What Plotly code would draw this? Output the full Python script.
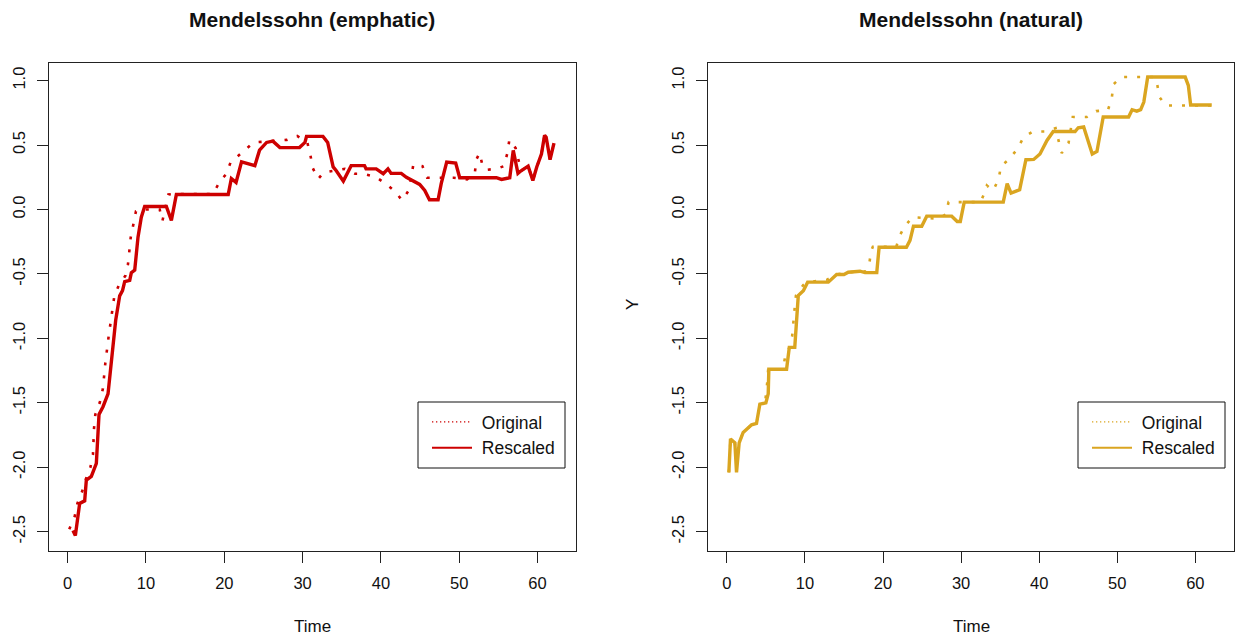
import plotly.graph_objects as go

# ---------------- data ----------------
emph_orig_t = [0.2, 0.9, 1.24, 1.83, 2.26, 2.9, 3.23, 3.36, 3.53, 4.09, 4.5, 4.81, 5.24, 5.7, 5.96,
               6.55, 7.36, 7.7, 8.05, 8.39, 8.72, 9.2, 11.75, 12.1, 12.86, 13.5, 18.5, 19.0, 19.6,
               20.2, 20.8, 22.6, 23.75, 26.0, 28.0, 29.3, 30.6, 31.0, 31.3, 32.0, 32.7, 34.0, 35.4,
               36.7, 37.7, 39.3, 40.6, 41.76, 42.7, 43.55, 44.15, 45.3, 45.9, 47.6, 49.3, 51.0, 52.0,
               52.2, 52.6, 53.0, 53.55, 54.8, 55.7, 56.15, 56.4, 56.9, 57.2, 57.9, 58.8, 59.4, 59.9,
               60.5, 60.9, 61.1, 61.6, 62.1]
emph_orig_y = [-2.48, -2.38, -2.28, -2.19, -2.10, -2.0, -1.9, -1.7, -1.59, -1.5, -1.39, -1.19, -0.98,
               -0.78, -0.67, -0.585, -0.515, -0.425, -0.217, -0.114, -0.013, 0.0, 0.0, -0.088, 0.116,
               0.12, 0.12, 0.17, 0.233, 0.27, 0.365, 0.46, 0.52, 0.53, 0.54, 0.57, 0.52, 0.42, 0.32,
               0.237, 0.287, 0.30, 0.315, 0.277, 0.277, 0.254, 0.2, 0.142, 0.072, 0.148, 0.35, 0.336,
               0.246, 0.246, 0.246, 0.233, 0.287, 0.39, 0.437, 0.334, 0.308, 0.316, 0.336, 0.437,
               0.54, 0.5, 0.476, 0.30, 0.336, 0.225, 0.33, 0.43, 0.575, 0.56, 0.386, 0.515]

emph_resc_t = [0.68, 0.98, 1.53, 2.17, 2.38, 3.02, 3.66, 4.0, 4.51, 5.15, 6.13, 6.64, 7.0, 7.28, 7.92,
               8.13, 8.56, 8.98, 9.4, 9.83, 12.6, 13.24, 13.88, 20.5, 20.9, 21.5, 22.2, 23.0, 23.9,
               24.5, 25.4, 26.2, 27.1, 29.6, 30.3, 30.5, 32.6, 33.2, 33.9, 34.3, 35.2, 36.2, 37.9,
               38.1, 39.4, 40.3, 40.9, 41.3, 42.6, 43.25, 44.1, 44.95, 45.6, 46.2, 47.3, 47.7, 48.4,
               49.55, 50.06, 54.75, 55.4, 56.45, 56.9, 57.5, 57.9, 58.8, 59.4, 59.9, 60.5, 60.9,
               61.1, 61.6, 62.1]
emph_resc_y = [-2.49, -2.53, -2.28, -2.26, -2.10, -2.07, -1.97, -1.59, -1.53, -1.43, -0.86, -0.67,
               -0.63, -0.56, -0.55, -0.49, -0.47, -0.215, -0.06, 0.023, 0.023, -0.085, 0.116, 0.116,
               0.24, 0.21, 0.37, 0.355, 0.34, 0.46, 0.52, 0.53, 0.48, 0.48, 0.52, 0.567, 0.567, 0.52,
               0.33, 0.30, 0.22, 0.34, 0.34, 0.315, 0.315, 0.277, 0.315, 0.28, 0.28, 0.25, 0.225,
               0.194, 0.148, 0.075, 0.075, 0.2, 0.367, 0.36, 0.246, 0.246, 0.233, 0.246, 0.458, 0.28,
               0.30, 0.336, 0.225, 0.33, 0.43, 0.575, 0.56, 0.386, 0.515]

nat_orig_t = [0.26, 0.47, 1.03, 1.24, 1.58, 2.09, 3.17, 3.8, 4.23, 4.9, 5.17, 5.3, 7.2, 7.44, 8.0,
              8.37, 8.68, 8.85, 9.8, 10.3, 12.8, 14.0, 15.5, 17.05, 17.8, 18.25, 18.46, 18.7, 21.7,
              22.1, 22.8, 23.76, 27.1, 28.0, 28.4, 32.5, 32.9, 33.3, 34.1, 34.8, 35.1, 36.15, 37.2,
              38.0, 39.2, 40.9, 42.1, 42.5, 42.9, 43.76, 44.3, 46.1, 47.3, 48.8, 49.3, 49.5, 50.5,
              54.8, 55.1, 55.4, 56.2, 62.1]
nat_orig_y = [-2.04, -1.78, -1.81, -2.04, -1.81, -1.73, -1.67, -1.66, -1.51, -1.50, -1.345, -1.24,
              -1.24, -1.15, -1.07, -0.98, -0.77, -0.668, -0.585, -0.564, -0.546, -0.505, -0.487,
              -0.479, -0.48, -0.42, -0.324, -0.29, -0.29, -0.207, -0.13, -0.06, -0.072, -0.04, 0.057,
              0.057, 0.114, 0.186, 0.147, 0.233, 0.334, 0.39, 0.468, 0.56, 0.605, 0.605, 0.63, 0.53,
              0.437, 0.515, 0.717, 0.717, 0.763, 0.77, 0.864, 0.97, 1.027, 1.027, 0.976, 0.872,
              0.807, 0.807]

nat_resc_t = [0.26, 0.47, 1.03, 1.24, 1.58, 2.09, 3.17, 3.8, 4.23, 5.0, 5.3, 5.38, 7.65, 8.0, 8.7,
              9.15, 9.8, 10.35, 13.0, 14.06, 15.0, 15.55, 17.05, 17.7, 19.2, 19.5, 23.0, 23.46, 23.9,
              24.96, 25.6, 28.8, 29.5, 29.9, 30.4, 35.4, 35.9, 36.4, 37.5, 38.3, 39.3, 40.1, 41.0,
              41.8, 44.6, 45.0, 45.7, 46.8, 47.4, 48.2, 51.45, 51.9, 52.5, 53.0, 53.4, 53.9, 58.7,
              59.1, 59.4, 62.1]
nat_resc_y = [-2.04, -1.78, -1.81, -2.04, -1.81, -1.73, -1.67, -1.66, -1.51, -1.50, -1.43, -1.24,
              -1.24, -1.07, -1.07, -0.668, -0.63, -0.564, -0.564, -0.505, -0.505, -0.487, -0.479,
              -0.49, -0.49, -0.293, -0.293, -0.24, -0.13, -0.13, -0.052, -0.052, -0.093, -0.093,
              0.057, 0.057, 0.2, 0.127, 0.153, 0.386, 0.388, 0.43, 0.535, 0.605, 0.605, 0.634, 0.64,
              0.43, 0.45, 0.717, 0.717, 0.774, 0.763, 0.774, 0.833, 1.027, 1.027, 0.963, 0.81, 0.81]

x_ticks = [0, 10, 20, 30, 40, 50, 60]
y_ticks = [-2.5, -2.0, -1.5, -1.0, -0.5, 0.0, 0.5, 1.0]
y_tick_labels = ["-2.5", "-2.0", "-1.5", "-1.0", "-0.5", "0.0", "0.5", "1.0"]
titles = ["Mendelssohn (emphatic)", "Mendelssohn (natural)"]
series_names = ["Original", "Rescaled"]

RED = "#CD0000"
GOLD = "#DAA520"
W, H = 1235, 638
FONT = "Liberation Sans, Arial, sans-serif"

def px_x(p):
    return p / W

def px_y(p):
    return 1 - p / H

fig = go.Figure()

panels = [
    dict(t_o=emph_orig_t, y_o=emph_orig_y, t_r=emph_resc_t, y_r=emph_resc_y, color=RED,
         xa="x", ya="y", legend="legend"),
    dict(t_o=nat_orig_t, y_o=nat_orig_y, t_r=nat_resc_t, y_r=nat_resc_y, color=GOLD,
         xa="x2", ya="y2", legend="legend2"),
]

for p in panels:
    fig.add_trace(go.Scatter(x=p["t_o"], y=p["y_o"], mode="lines", xaxis=p["xa"], yaxis=p["ya"],
                             line=dict(color=p["color"], width=2.6, dash="3px,10px"),
                             showlegend=False, hoverinfo="skip"))
    fig.add_trace(go.Scatter(x=p["t_r"], y=p["y_r"], mode="lines", xaxis=p["xa"], yaxis=p["ya"],
                             line=dict(color=p["color"], width=3.4),
                             showlegend=False, hoverinfo="skip"))
    # legend samples (thin lines as in the original legend)
    fig.add_trace(go.Scatter(x=[None], y=[None], mode="lines", xaxis=p["xa"], yaxis=p["ya"],
                             name="\u00a0" + series_names[0], legend=p["legend"],
                             line=dict(color=p["color"], width=1.3, dash="1.3px,2.7px")))
    fig.add_trace(go.Scatter(x=[None], y=[None], mode="lines", xaxis=p["xa"], yaxis=p["ya"],
                             name="\u00a0" + series_names[1], legend=p["legend"],
                             line=dict(color=p["color"], width=2)))

xr = [-2.45, 64.95]
yr = [-2.647, 1.14]
ydom = [px_y(550.7), px_y(62.5)]

common_x = dict(range=xr, tickvals=x_ticks, ticks="outside", ticklen=11, tickwidth=1,
                tickcolor="#222", showline=True, linecolor="#222", linewidth=1, mirror=True,
                showgrid=False, zeroline=False, tickfont=dict(size=16.5, color="#111", family=FONT),
                ticklabelstandoff=6, fixedrange=True)
common_y = dict(range=yr, tickvals=y_ticks, ticktext=y_tick_labels, ticks="outside", ticklen=11,
                tickwidth=1, tickcolor="#222", showline=True, linecolor="#222", linewidth=1,
                mirror=True, showgrid=False, zeroline=False, tickangle=-90,
                tickfont=dict(size=16.5, color="#111", family=FONT), ticklabelstandoff=5,
                fixedrange=True)

leg_common = dict(xanchor="left", yanchor="top", bgcolor="rgba(0,0,0,0)", borderwidth=0,
                  font=dict(size=17.5, family=FONT, color="#111"), tracegroupgap=0, itemwidth=40)

fig.update_layout(
    width=W, height=H,
    margin=dict(l=0, r=0, t=0, b=0),
    paper_bgcolor="white", plot_bgcolor="white",
    font=dict(family=FONT, size=16, color="#111"),
    xaxis=dict(domain=[px_x(48.5), px_x(576.3)], anchor="y", **common_x),
    yaxis=dict(domain=ydom, anchor="x", **common_y),
    xaxis2=dict(domain=[px_x(707.7), px_x(1234)], anchor="y2", **common_x),
    yaxis2=dict(domain=ydom, anchor="x2", **common_y),
    legend=dict(x=px_x(427), y=px_y(404), **leg_common),
    legend2=dict(x=px_x(1087), y=px_y(404), **leg_common),
    shapes=[
        dict(type="rect", xref="paper", yref="paper", x0=px_x(418), x1=px_x(565),
             y0=px_y(468), y1=px_y(402), line=dict(color="#111", width=1)),
        dict(type="rect", xref="paper", yref="paper", x0=px_x(1078), x1=px_x(1225),
             y0=px_y(468), y1=px_y(402), line=dict(color="#111", width=1)),
    ],
    annotations=[
        dict(text="<b>%s</b>" % titles[0], x=px_x(312), y=px_y(20)),
        dict(text="<b>%s</b>" % titles[1], x=px_x(971), y=px_y(20)),
        dict(text="Time", x=px_x(312), y=px_y(626), font=dict(size=17, family=FONT, color="#111")),
        dict(text="Time", x=px_x(971), y=px_y(626), font=dict(size=17, family=FONT, color="#111")),
        dict(text="Y", x=px_x(632), y=px_y(305), textangle=-90,
             font=dict(size=17, family=FONT, color="#111")),
    ],
)
for a in fig.layout.annotations:
    a.update(xref="paper", yref="paper", xanchor="center", yanchor="middle", showarrow=False)
    if a.text.startswith("<b>"):
        a.update(font=dict(size=21, family=FONT, color="#111"))

fig.write_html("out.html", config={"displayModeBar": False},
               post_script="document.body.style.margin='0';document.body.style.overflow='hidden';")
